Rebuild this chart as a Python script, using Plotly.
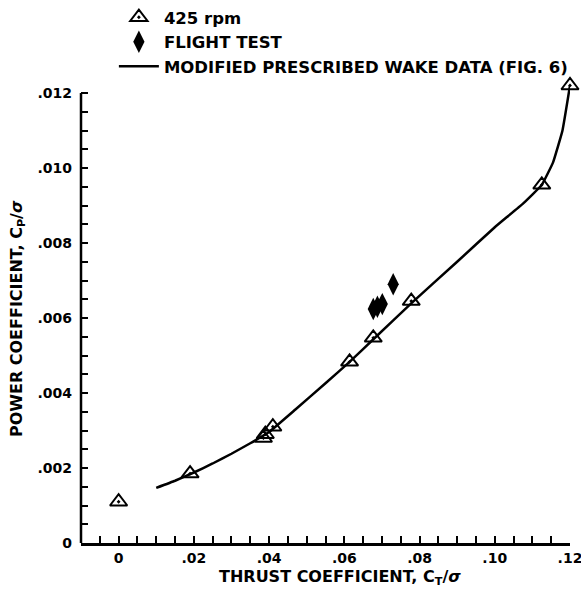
import plotly.graph_objects as go

# Wind tunnel data, 425 rpm (open triangles)
rpm425_ct = [0.0, 0.019, 0.0385, 0.039, 0.041, 0.0614, 0.0677, 0.0778, 0.1125, 0.12]
rpm425_cp = [0.0011, 0.00185, 0.0028, 0.0029, 0.0031, 0.00483, 0.00547, 0.00645, 0.00955, 0.0122]

# Flight test (filled diamonds)
flight_ct = [0.0677, 0.0688, 0.0701, 0.0730]
flight_cp = [0.00624, 0.0063, 0.00637, 0.0069]

# Modified prescribed wake data curve
wake_ct = [0.010, 0.015, 0.020, 0.025, 0.030, 0.035, 0.040, 0.047, 0.055, 0.0614, 0.068,
           0.078, 0.090, 0.100, 0.1075, 0.1125, 0.1155, 0.118, 0.120]
wake_cp = [0.00147, 0.00166, 0.00188, 0.00212, 0.00238, 0.00266, 0.00296, 0.00356, 0.00426,
           0.00483, 0.00546, 0.00641, 0.00750, 0.00842, 0.00905, 0.00955, 0.01015, 0.01100, 0.01220]

x_tickvals = [0, 0.02, 0.04, 0.06, 0.08, 0.10, 0.12]
x_ticktext = ["0", ".02", ".04", ".06", ".08", ".10", ".12"]
y_tickvals = [0, 0.002, 0.004, 0.006, 0.008, 0.010, 0.012]
y_ticktext = ["0", ".002", ".004", ".006", ".008", ".010", ".012"]
y_axis_top = 0.012

FONT = "DejaVu Sans"
TITLE_FONT = dict(family=FONT, size=16, color="black", weight="bold")
LEGEND_FONT = dict(family=FONT, size=16.5, color="black", weight="bold")

fig = go.Figure()
fig.add_trace(go.Scatter(
    x=wake_ct, y=wake_cp, mode="lines", name="MODIFIED PRESCRIBED WAKE DATA (FIG. 6)",
    line=dict(color="black", width=2.5, shape="spline", smoothing=0.3),
    cliponaxis=False, legendrank=3,
))
fig.add_trace(go.Scatter(
    x=rpm425_ct, y=rpm425_cp, mode="markers", name="425 rpm",
    marker=dict(symbol="triangle-up-open-dot", size=15, color="black",
                line=dict(width=2, color="black")),
    cliponaxis=False, legendrank=1,
))
fig.add_trace(go.Scatter(
    x=flight_ct, y=flight_cp, mode="markers", name="FLIGHT TEST",
    marker=dict(symbol="diamond-tall", size=16, color="black",
                line=dict(width=0)),
    cliponaxis=False, legendrank=2,
))

axis_common = dict(
    linecolor="black", linewidth=2.5, showgrid=False, zeroline=False,
    ticks="inside", ticklen=7, tickwidth=1.5, tickcolor="black",
    tickfont=dict(family=FONT, size=14, color="black", weight="bold"),
    mirror=False, automargin=False, ticklabeloverflow="allow",
)

fig.update_xaxes(
    range=[-0.01, 0.12], tickvals=x_tickvals, ticktext=x_ticktext, showline=True,
    minor=dict(dtick=0.005, tick0=0, ticks="inside", ticklen=7, tickwidth=1.5, tickcolor="black"),
    **axis_common,
)
fig.update_yaxes(
    range=[0, 0.01224], tickvals=y_tickvals, ticktext=y_ticktext, showline=False,
    ticklabelstandoff=8,
    minor=dict(dtick=0.0005, tick0=0, ticks="inside", ticklen=7, tickwidth=1.5, tickcolor="black"),
    **axis_common,
)

# y axis line only up to the last labelled value
fig.add_shape(type="line", xref="x domain", yref="y", x0=0, x1=0, y0=0, y1=y_axis_top,
              line=dict(color="black", width=2.5), layer="above")

# axis titles
fig.add_annotation(text="POWER COEFFICIENT, C<sub>P</sub>/<i>σ</i>", textangle=-90,
                   xref="paper", yref="paper", x=-0.131, y=0.49, xanchor="center", yanchor="middle",
                   showarrow=False, font=TITLE_FONT)
fig.add_annotation(text="THRUST COEFFICIENT, C<sub>T</sub>/<i>σ</i>",
                   xref="paper", yref="paper", x=0.53, y=-0.076, xanchor="center", yanchor="middle",
                   showarrow=False, font=TITLE_FONT)

fig.update_layout(
    width=581, height=594,
    margin=dict(l=81, r=11, t=84, b=51, autoexpand=False),
    paper_bgcolor="white", plot_bgcolor="white",
    showlegend=True,
    legend=dict(x=0.196, y=1.008, xref="container", yref="container", xanchor="left", yanchor="top",
                font=LEGEND_FONT,
                bgcolor="rgba(0,0,0,0)", borderwidth=0, tracegroupgap=0,
                itemwidth=40, traceorder="normal"),
)

fig.write_html("out.html")
